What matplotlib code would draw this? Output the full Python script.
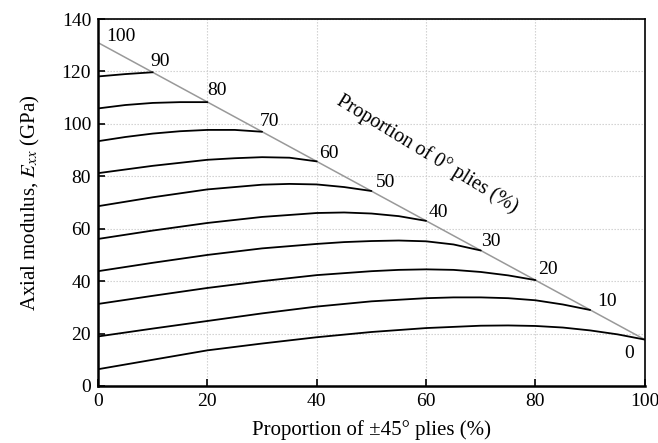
import matplotlib
matplotlib.use("Agg")
import matplotlib.pyplot as plt

plt.rcParams["font.family"] = ["Liberation Serif", "DejaVu Serif"]
plt.rcParams["mathtext.fontset"] = "stix"

# Proportion of 0° plies for each curve (%)
zero_ply_pct = [0, 10, 20, 30, 40, 50, 60, 70, 80, 90]

# Proportion of ±45° plies (x) and axial modulus E_xx in GPa (y) for each curve
curve_x = {
    0:  [0, 10, 20, 30, 40, 50, 60, 70, 75, 80, 85, 90, 95, 100],
    10: [0, 10, 20, 30, 40, 50, 60, 65, 70, 75, 80, 85, 90],
    20: [0, 10, 20, 30, 40, 50, 55, 60, 65, 70, 75, 80],
    30: [0, 10, 20, 30, 40, 45, 50, 55, 60, 65, 70],
    40: [0, 10, 20, 30, 40, 45, 50, 55, 60],
    50: [0, 10, 20, 30, 35, 40, 45, 50],
    60: [0, 10, 20, 25, 30, 35, 40],
    70: [0, 5, 10, 15, 20, 25, 30],
    80: [0, 5, 10, 15, 20],
    90: [0, 5, 10],
}
curve_y = {
    0:  [6.4, 10.0, 13.6, 16.2, 18.6, 20.6, 22.1, 23.0, 23.1, 22.9, 22.3, 21.2, 19.7, 17.7],
    10: [18.9, 21.9, 24.8, 27.7, 30.3, 32.3, 33.5, 33.8, 33.8, 33.5, 32.7, 31.1, 29.0],
    20: [31.3, 34.4, 37.4, 40.0, 42.3, 43.8, 44.3, 44.5, 44.3, 43.5, 42.2, 40.4],
    30: [43.8, 47.0, 50.0, 52.5, 54.2, 54.9, 55.3, 55.5, 55.2, 54.0, 51.7],
    40: [56.1, 59.3, 62.2, 64.5, 66.0, 66.2, 65.8, 64.8, 63.0],
    50: [68.6, 72.0, 75.0, 76.8, 77.1, 76.9, 75.9, 74.4],
    60: [81.2, 84.0, 86.3, 86.9, 87.3, 87.1, 85.7],
    70: [93.4, 95.0, 96.3, 97.2, 97.7, 97.7, 97.0],
    80: [105.9, 107.2, 108.0, 108.3, 108.3],
    90: [118.1, 119.0, 119.7],
}

# Boundary line: laminates with no 90° plies (0° + ±45° = 100 %)
boundary_x = [0, 100]
boundary_y = [131.0, 17.7]

x_ticks = [0, 20, 40, 60, 80, 100]
y_ticks = [0, 20, 40, 60, 80, 100, 120, 140]

# label placement relative to each curve end (pixels)
label_offsets = {
    "0": (-21, -18), "10": (7, 4), "20": (3, 6), "30": (0, 4), "40": (3, 4),
    "50": (4, 4), "60": (2, 3), "70": (-2, 6), "80": (0, 7), "90": (-2, 6),
    "100": (8, 2),
}

fig = plt.figure(figsize=(6.58, 4.43), dpi=100)
ax = fig.add_axes([0.149, 0.1287, 0.831, 0.8283])

ax.plot(boundary_x, boundary_y, color="#999999", lw=1.1, zorder=2)

for p in zero_ply_pct:
    ax.plot(curve_x[p], curve_y[p], color="black", lw=1.3, zorder=3,
            solid_joinstyle="round", solid_capstyle="round")

label_fs = 14
for p in zero_ply_pct:
    lab = str(p)
    ex, ey = curve_x[p][-1], curve_y[p][-1]
    ax.annotate(lab, (ex, ey), xytext=label_offsets[lab], textcoords="offset pixels",
                ha="left", va="baseline", fontsize=label_fs)
ax.annotate("100", (boundary_x[0], boundary_y[0]), xytext=label_offsets["100"],
            textcoords="offset pixels", ha="left", va="baseline", fontsize=label_fs)

ax.text(60.2, 88.3, "Proportion of 0° plies (%)", rotation=-31.5,
        ha="center", va="center", fontsize=14.5, rotation_mode="anchor")

ax.set_xlim(0, 100)
ax.set_ylim(0, 140)
ax.set_xticks(x_ticks)
ax.set_yticks(y_ticks)
ax.tick_params(direction="in", length=5, width=1.2, labelsize=14, pad=5,
               top=False, right=False)
ax.grid(True, color="#cccccc", linestyle=(0, (1.2, 1.5)), linewidth=0.8)
ax.set_axisbelow(True)

for side in ("left", "bottom"):
    ax.spines[side].set_linewidth(1.8)
for side in ("top", "right"):
    ax.spines[side].set_linewidth(1.2)

ax.set_xlabel("Proportion of ±45° plies (%)", fontsize=15, labelpad=7)
ax.set_ylabel("Axial modulus, $E_{xx}$ (GPa)", fontsize=15, labelpad=14)

fig.savefig("out.png", dpi=100)
